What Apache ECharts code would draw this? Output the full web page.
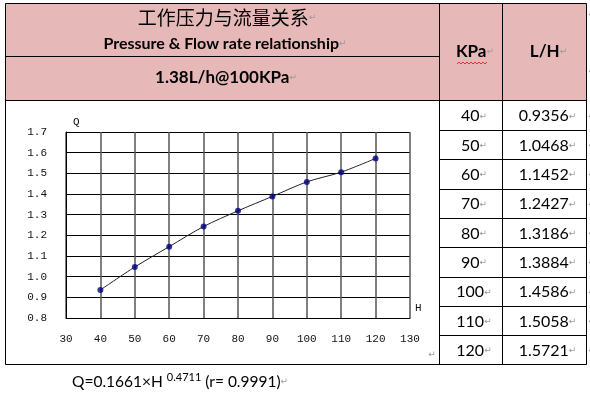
<!DOCTYPE html>
<html><head><meta charset="utf-8">
<script src="https://cdn.jsdelivr.net/npm/echarts@6/dist/echarts.min.js"></script>
<style>html,body{margin:0;padding:0;background:#fff}#c{width:590px;height:393px}</style>
</head><body><div id="c"></div>
<script>
// ---- data ----
const pressures = [40, 50, 60, 70, 80, 90, 100, 110, 120];          // KPa (H)
const flows = [0.9356, 1.0468, 1.1452, 1.2427, 1.3186, 1.3884, 1.4586, 1.5058, 1.5721]; // L/H (Q)
const xAxisRange = [30, 130, 10];
const yAxisRange = [0.8, 1.7, 0.1];
const titleCn = '工作压力与流量关系';
const titleEn = 'Pressure & Flow rate relationship';
const ratedText = '1.38L/h@100KPa';
const colHeaders = ['KPa', 'L/H'];
const formulaBase = 'Q=0.1661×H ';
const formulaExp = '0.4711';
const formulaTail = ' (r= 0.9991)';

// ---- layout ----
const L = 5.5, R = 586.5, T = 3.5, MID = 56.5, HB = 100.5, C1 = 439.5, C2 = 502.5, B = 364.5;
const PINK = '#E6B9B8';
const MARK = '↵';
const rowH = (B - HB) / pressures.length;

const g = [];
function line(x1, y1, x2, y2, color, w) {
  g.push({type: 'line', silent: true, z: 10, shape: {x1, y1, x2, y2}, style: {stroke: color || '#000', lineWidth: w || 1}});
}
function text(x, y, rich, align, z) {
  g.push({type: 'text', silent: true, z: z || 20, x: x, y: y,
    style: {text: rich.text, rich: rich.rich, align: align || 'center', textAlign: align || 'center',
      verticalAlign: 'middle', textVerticalAlign: 'middle'}});
}
const markStyle = {fontSize: 9, fontFamily: 'DejaVu Sans', fill: '#999'};

// pink fills
g.push({type: 'rect', silent: true, z: 1, shape: {x: L, y: T, width: R - L, height: HB - T}, style: {fill: PINK}});
// borders
line(L, T, R, T); line(L, B, R, B); line(L, T, L, B); line(R, T, R, B);
line(L, MID, C1, MID); line(L, HB, R, HB);
line(C1, T, C1, B); line(C2, T, C2, B);
for (let k = 1; k < pressures.length; k++) {
  const y = Math.round(HB + rowH * k) + 0.5;
  line(C1, y, R, y);
}
// header texts
text(227, 18, {text: '{a|' + titleCn + '}{m|' + MARK + '}', rich: {a: {fontSize: 19, fontFamily: 'Noto Sans CJK SC', fill: '#000'}, m: markStyle}});
text(225, 44, {text: '{a|' + titleEn + '}{m|' + MARK + '}', rich: {a: {fontSize: 16, fontWeight: 'bold', fontFamily: 'Lato', fill: '#000'}, m: markStyle}});
text(226, 78, {text: '{a|' + ratedText + '}{m|' + MARK + '}', rich: {a: {fontSize: 17, fontWeight: 'bold', fontFamily: 'Lato', fill: '#000'}, m: markStyle}});
text((C1 + C2) / 2 + 4, 52, {text: '{a|' + colHeaders[0] + '}{m|' + MARK + '}', rich: {a: {fontSize: 17, fontWeight: 'bold', fontFamily: 'Lato', fill: '#000'}, m: markStyle}});
text((C2 + R) / 2 + 4, 52, {text: '{a|' + colHeaders[1] + '}{m|' + MARK + '}', rich: {a: {fontSize: 17, fontWeight: 'bold', fontFamily: 'Lato', fill: '#000'}, m: markStyle}});
// red wavy underline under KPa
(function () {
  const pts = [];
  for (let x = 457, i = 0; x <= 487; x += 2, i++) pts.push([x, i % 2 ? 62 : 64]);
  g.push({type: 'polyline', silent: true, z: 21, shape: {points: pts}, style: {stroke: '#E03030', lineWidth: 1, fill: null}});
})();
// table values
pressures.forEach((p, i) => {
  const y = HB + rowH * (i + 0.5) + 1;
  text((C1 + C2) / 2 + 3, y, {text: '{a|' + p + '}{m|' + MARK + '}', rich: {a: {fontSize: 16, fontFamily: 'Lato', fill: '#000'}, m: markStyle}});
  text((C2 + R) / 2 + 3, y, {text: '{a|' + flows[i].toFixed(4) + '}{m|' + MARK + '}', rich: {a: {fontSize: 16, fontFamily: 'Lato', fill: '#000'}, m: markStyle}});
  text(R + 2, y, {text: '{m|' + MARK + '}', rich: {m: markStyle}}, 'left');
});
text(R + 2, 15, {text: '{m|' + MARK + '}', rich: {m: markStyle}}, 'left');
text(R + 2, 72, {text: '{m|' + MARK + '}', rich: {m: markStyle}}, 'left');
text(432, 355, {text: '{m|' + MARK + '}', rich: {m: markStyle}}, 'center');
// formula
text(72, 382, {text: '{a|' + formulaBase + '}{s|' + formulaExp + '}{a|' + formulaTail + '}{m|' + MARK + '}',
  rich: {a: {fontSize: 15.5, fontFamily: 'Lato', fill: '#000'},
         s: {fontSize: 11, fontFamily: 'Lato', fill: '#000', padding: [0, 0, 9, 0]},
         m: markStyle}}, 'left');

const chart = echarts.init(document.getElementById('c'), null, {renderer: 'canvas'});
const labelFont = {fontFamily: 'Liberation Mono', fontSize: 11, color: '#111'};
chart.setOption({
  animation: false,
  grid: {left: 66, top: 132, right: 180, bottom: 75, show: false},
  xAxis: {
    type: 'value', min: xAxisRange[0], max: xAxisRange[1], interval: xAxisRange[2],
    name: 'H', nameLocation: 'end', nameGap: 5,
    nameTextStyle: Object.assign({}, labelFont, {verticalAlign: 'bottom', padding: [0, 0, 4, 0]}),
    axisLine: {show: true, onZero: false, lineStyle: {color: '#000', width: 1}},
    axisTick: {show: false},
    axisLabel: Object.assign({}, labelFont, {margin: 16}),
    splitLine: {show: true, lineStyle: {color: '#555', width: 1.5}}
  },
  yAxis: {
    type: 'value', min: yAxisRange[0], max: yAxisRange[1], interval: yAxisRange[2],
    name: 'Q', nameLocation: 'end', nameGap: 4,
    nameTextStyle: Object.assign({}, labelFont, {align: 'left', verticalAlign: 'bottom', padding: [0, 0, 0, 7]}),
    axisLine: {show: true, onZero: false, lineStyle: {color: '#000', width: 1}},
    axisTick: {show: false},
    axisLabel: Object.assign({}, labelFont, {margin: 19, formatter: v => v.toFixed(1)}),
    splitLine: {show: true, lineStyle: {color: '#000', width: 1}}
  },
  graphic: g,
  series: [
    {type: 'line', data: pressures.map((p, i) => [p, flows[i]]), smooth: 0.3, showSymbol: false,
      lineStyle: {color: '#222', width: 1}, z: 3, silent: true},
    {type: 'scatter', data: pressures.map((p, i) => [p, flows[i]]), symbolSize: 6,
      itemStyle: {color: '#00007F'}, z: 4, silent: true}
  ]
});
</script></body></html>
